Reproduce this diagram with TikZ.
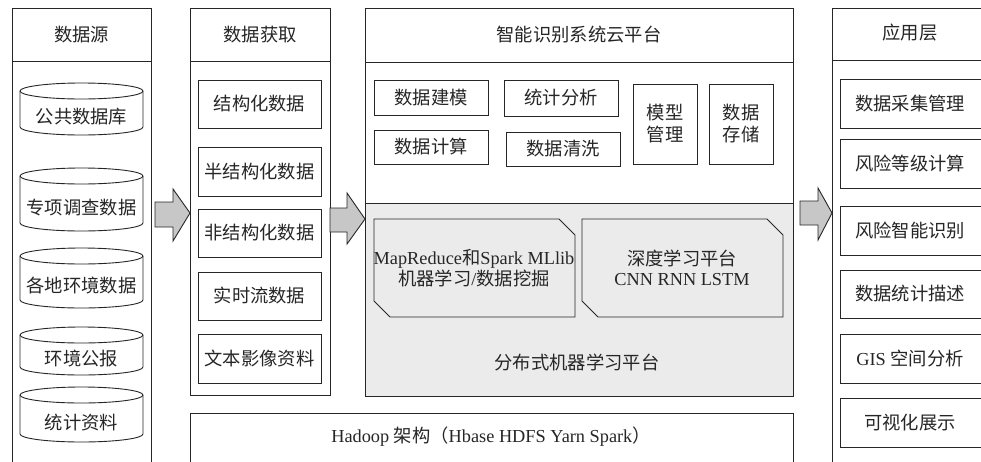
\documentclass[tikz,border=0pt]{standalone}
\usepackage{fontspec}
\setmainfont{Noto Sans CJK SC}
\newfontfamily\lat{Liberation Serif}
\usetikzlibrary{calc}
\tikzset{
  ln/.style={draw=black!85, line width=0.9pt},
  box/.style={ln, rectangle, inner sep=0pt, align=center, font=\fontsize{18.3}{22}\selectfont, text=black!85},
  txt/.style={inner sep=0pt, align=center, font=\fontsize{18.3}{22}\selectfont, text=black!85},
  blockarrow/.style={ln, fill=black!22, line join=miter},
  greyzone/.style={ln, fill=black!8},
}
\newcommand\Bx[7][]{\node[box,#1, minimum width={(#5-#3)*1pt}, minimum height={(#6-#4)*1pt}] (#2) at ({(#3+#5)/2},{(#4+#6)/2}) {#7};}
\newcommand\Cyl[4]{%
  \draw[ln, fill=white] (20,#2+8) -- (20,#3-8) arc[start angle=180,end angle=360,x radius=61.5pt,y radius=8pt] -- (143,#2+8) arc[start angle=0,end angle=180,x radius=61.5pt,y radius=8pt] -- cycle;
  \draw[ln] (20,#2+8) arc[start angle=180,end angle=360,x radius=61.5pt,y radius=8pt];
  \node[txt] (#1) at (81.5,{(#2+16+#3)/2}) {#4};}
\begin{document}
\begin{tikzpicture}[x=1pt,y=-1pt]
\clip (0,0) rectangle (981,461);
\fill[white] (0,0) rectangle (981,461);

% column 1: data sources
\Bx{h1}{12}{8}{151}{61}{数据源}
\Bx{b1}{12}{61}{151}{480}{}
\Cyl{c1}{83}{135}{公共数据库}
\Cyl{c2}{168}{231}{专项调查数据}
\Cyl{c3}{248}{308}{各地环境数据}
\Cyl{c4}{327}{375}{环境公报}
\Cyl{c5}{387}{442}{统计资料}

% column 2: data acquisition
\Bx{h2}{190}{8}{330}{61}{数据获取}
\Bx{b2}{190}{61}{330}{395}{}
\Bx{a1}{198}{80}{321}{128}{结构化数据}
\Bx{a2}{198}{147}{321}{196}{半结构化数据}
\Bx{a3}{198}{209}{321}{257}{非结构化数据}
\Bx{a4}{198}{272}{321}{320}{实时流数据}
\Bx{a5}{198}{334}{321}{383}{文本影像资料}

% column 3: cloud platform
\Bx{h3}{365}{8}{793}{62}{智能识别系统云平台}
\Bx{b3}{365}{62}{793}{203}{}
\Bx[greyzone]{g3}{365}{203}{793}{396}{}
\Bx{p1}{374}{80}{488}{115}{数据建模}
\Bx{p2}{504}{80}{618}{116}{统计分析}
\Bx{p3}{374}{130}{488}{164}{数据计算}
\Bx{p4}{506}{132}{620}{166}{数据清洗}
\Bx{p5}{633}{84}{697}{164}{模型\\管理}
\Bx{p6}{709}{84}{773}{164}{数据\\存储}
\draw[ln] (374,219) -- (559,219) -- (575,235) -- (575,317) -- (390,317) -- (374,301) -- cycle;
\draw[ln] (582,219) -- (767,219) -- (783,235) -- (783,317) -- (598,317) -- (582,301) -- cycle;
\node[txt, font=\fontsize{18.3}{20.5}\selectfont] (m1) at (474,268) {{\lat MapReduce}和{\lat Spark MLlib}\\机器学习{\lat /}数据挖掘};
\node[txt, font=\fontsize{18.3}{20.5}\selectfont] (m2) at (682,268) {深度学习平台\\{\lat CNN RNN LSTM}};
\node[txt] (dist) at (577,362) {分布式机器学习平台};

% Hadoop bar
\Bx{hd}{190}{413}{793}{480}{}
\node[txt] (hdt) at (491,437) {{\lat Hadoop }架构（{\lat Hbase HDFS Yarn Spark}）};

% column 4: application layer
\Bx{h4}{832}{8}{995}{60}{}
\node[txt] (h4t) at (910,33) {应用层};
\Bx{b4}{832}{60}{995}{480}{}
\Bx{u1}{840}{79}{995}{128}{}
\Bx{u2}{840}{139}{995}{188}{}
\Bx{u3}{840}{206}{995}{255}{}
\Bx{u4}{840}{270}{995}{318}{}
\Bx{u5}{840}{334}{995}{383}{}
\Bx{u6}{840}{398}{995}{447}{}
\node[txt] (u1t) at (910,103.5) {数据采集管理};
\node[txt] (u2t) at (910,163.5) {风险等级计算};
\node[txt] (u3t) at (910,230.5) {风险智能识别};
\node[txt] (u4t) at (910,294) {数据统计描述};
\node[txt] (u5t) at (910,358.5) {{\lat GIS }空间分析};
\node[txt] (u6t) at (910,422.5) {可视化展示};

% block arrows between columns
\draw[blockarrow] (155,202) -- (173,202) -- (173,189) -- (190,213) -- (173,241) -- (173,227) -- (155,227) -- cycle;
\draw[blockarrow] (330,208) -- (347,208) -- (347,193) -- (365,219) -- (347,244) -- (347,232) -- (330,232) -- cycle;
\draw[blockarrow] (800,201) -- (818,201) -- (818,188) -- (832,213) -- (818,240) -- (818,225) -- (800,225) -- cycle;
\end{tikzpicture}
\end{document}
